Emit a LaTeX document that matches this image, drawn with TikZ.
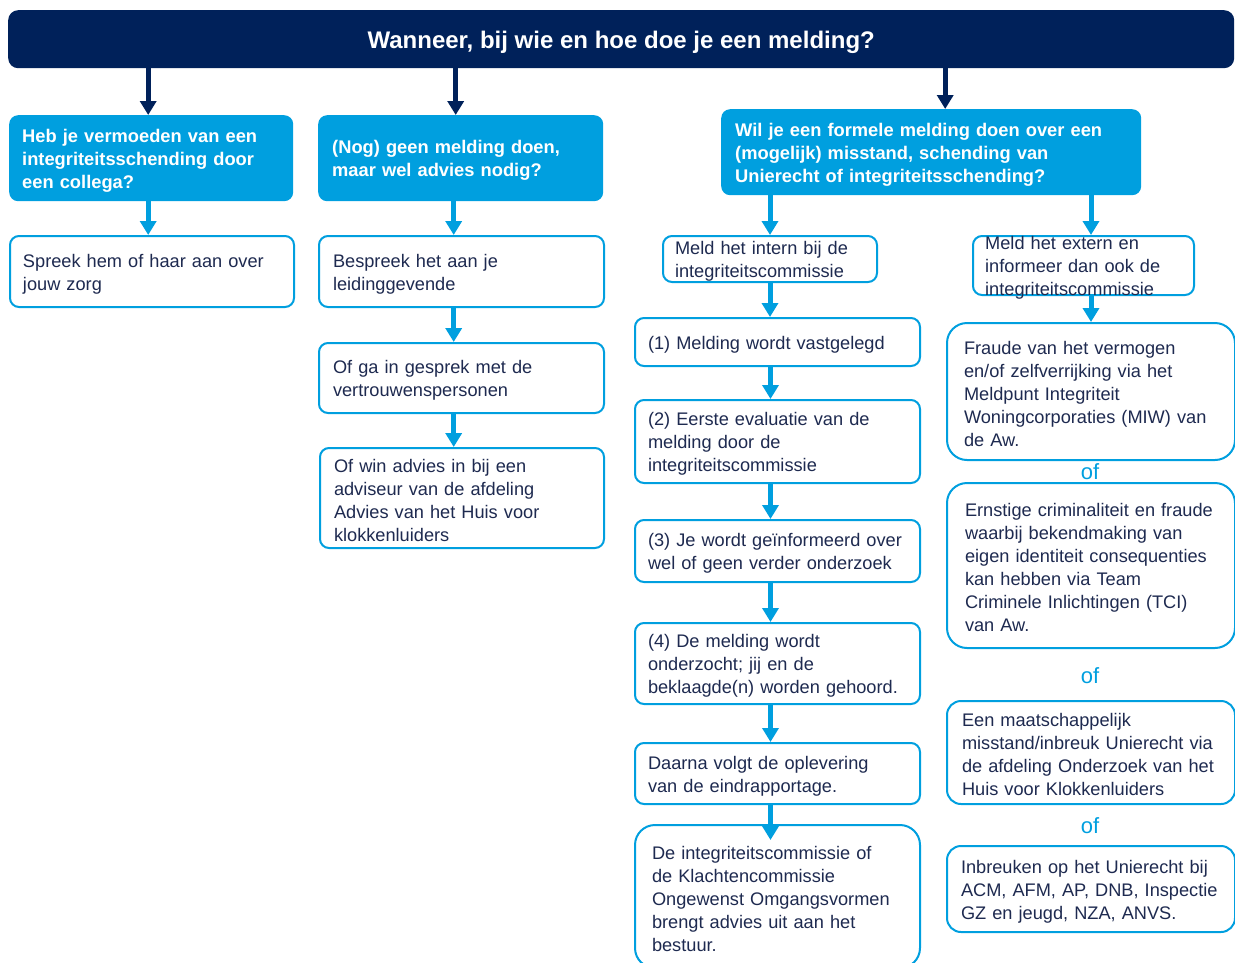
\documentclass[tikz,border=0pt]{standalone}
\usepackage{fontspec}
\setmainfont{Liberation Sans}
\usetikzlibrary{arrows.meta}
\definecolor{navy}{HTML}{00215A}
\definecolor{sky}{HTML}{009FDF}
\definecolor{ink}{HTML}{1E2A50}
\begin{document}
\begin{tikzpicture}[x=1pt,y=-1pt,
  base/.style={rounded corners=9pt, anchor=north west, inner xsep=13pt, inner ysep=0pt, align=left, font=\fontsize{18.2}{23}\selectfont, execute at begin node={\rule{0pt}{18pt}}},
  qbox/.style={base, fill=sky, text=white, font=\bfseries\fontsize{18.3}{23}\selectfont},
  wbox/.style={base, draw=sky, line width=2pt, fill=white, text=ink},
  darrow/.style={draw=navy, line width=5pt, -{Triangle[width=16pt,length=14pt]}},
  barrow/.style={draw=sky, line width=5pt, -{Triangle[width=16pt,length=14pt]}},
  oftxt/.style={text=sky, font=\fontsize{22}{24}\selectfont}]
\useasboundingbox (0,0) rectangle (1235,962);
\clip (0,0) rectangle (1235,962);

% header
\node[rounded corners=10pt, fill=navy, text=white, anchor=north west, minimum width=1226pt, minimum height=58pt,
      text height=24pt, text depth=5pt, inner ysep=0pt,
      font=\bfseries\fontsize{24}{26}\selectfont] (hdr) at (8,10) {Wanneer, bij wie en hoe doe je een melding?};

% question boxes
\node[qbox, minimum width=284pt, minimum height=86pt, text width=258pt] (a1) at (9,115)
  {Heb je vermoeden van een\\integriteitsschending door\\een collega?};
\node[qbox, inner xsep=14pt, minimum width=285pt, minimum height=86pt, text width=257pt] (b1) at (318,115)
  {(Nog) geen melding doen,\\maar wel advies nodig?};
\node[qbox, inner xsep=14pt, minimum width=420pt, minimum height=86pt, text width=392pt] (c1) at (721,109)
  {Wil je een formele melding doen over een\\(mogelijk) misstand, schending van\\Unierecht of integriteitsschending?};

% left column
\node[wbox, minimum width=284pt, minimum height=71pt, text width=258pt] (a2) at (9,235)
  {Spreek hem of haar aan over\\jouw zorg};

% second column
\node[wbox, inner xsep=14pt, minimum width=285pt, minimum height=71pt, text width=257pt] (b2) at (318,235)
  {Bespreek het aan je\\leidinggevende};
\node[wbox, inner xsep=14pt, minimum width=285pt, minimum height=70pt, text width=257pt] (b3) at (318,342)
  {Of ga in gesprek met de\\vertrouwenspersonen};
\node[wbox, inner xsep=14pt, minimum width=284pt, minimum height=100pt, text width=256pt] (b4) at (319,447)
  {Of win advies in bij een\\adviseur van de afdeling\\Advies van het Huis voor\\klokkenluiders};

% third column
\node[wbox, inner xsep=12pt, minimum width=214pt, minimum height=46pt, text width=190pt] (c2a) at (662,235)
  {Meld het intern bij de\\integriteitscommissie};
\node[wbox, minimum width=285pt, minimum height=48pt, text width=259pt] (c3) at (634,317)
  {(1) Melding wordt vastgelegd};
\node[wbox, minimum width=285pt, minimum height=83pt, text width=259pt] (c4) at (634,399)
  {(2) Eerste evaluatie van de\\melding door de\\integriteitscommissie};
\node[wbox, minimum width=285pt, minimum height=62pt, text width=259pt] (c5) at (634,519)
  {(3) Je wordt geïnformeerd over\\wel of geen verder onderzoek};
\node[wbox, minimum width=285pt, minimum height=81pt, text width=259pt] (c6) at (634,622)
  {(4) De melding wordt\\onderzocht; jij en de\\beklaagde(n) worden gehoord.};
\node[wbox, minimum width=285pt, minimum height=61pt, text width=259pt] (c7) at (634,742)
  {Daarna volgt de oplevering\\van de eindrapportage.};
\node[wbox, rounded corners=20pt, inner xsep=17pt, minimum width=285pt, minimum height=143pt, text width=251pt] (c8) at (634,824)
  {De integriteitscommissie of\\de Klachtencommissie\\Ongewenst Omgangsvormen\\brengt advies uit aan het\\bestuur.};

% fourth column
\node[wbox, minimum width=221pt, minimum height=59pt, execute at begin node={}] (c2b) at (972,235) {};
\node[base, inner xsep=0pt, anchor=west, text=ink, text width=205pt] (c2btxt) at ([xshift=13pt]c2b.west)
  {Meld het extern en\\informeer dan ook de\\integriteitscommissie};
\node[wbox, rounded corners=20pt, inner xsep=17pt, minimum width=288pt, minimum height=137pt, text width=254pt] (d1) at (946,322)
  {Fraude van het vermogen\\en/of zelfverrijking via het\\Meldpunt Integriteit\\Woningcorporaties (MIW) van\\de Aw.};
\node[oftxt] (of1) at (1090,472) {of};
\node[wbox, rounded corners=20pt, inner xsep=18pt, minimum width=288pt, minimum height=165pt, text width=252pt] (d2) at (946,482)
  {Ernstige criminaliteit en fraude\\waarbij bekendmaking van\\eigen identiteit consequenties\\kan hebben via Team\\Criminele Inlichtingen (TCI)\\van Aw.};
\node[oftxt] (of2) at (1090,676) {of};
\node[wbox, rounded corners=14pt, inner xsep=15pt, minimum width=288pt, minimum height=103pt, text width=258pt] (d3) at (946,700)
  {Een maatschappelijk\\misstand/inbreuk Unierecht via\\de afdeling Onderzoek van het\\Huis voor Klokkenluiders};
\node[oftxt] (of3) at (1090,826) {of};
\node[wbox, rounded corners=14pt, inner xsep=14pt, minimum width=288pt, minimum height=86pt, text width=260pt] (d4) at (946,845)
  {Inbreuken op het Unierecht bij\\ACM, AFM, AP, DNB, Inspectie\\GZ en jeugd, NZA, ANVS.};

% header arrows
\coordinate (ta) at ([xshift=-3pt]a1.north);
\coordinate (tb) at ([xshift=-5pt]b1.north);
\coordinate (tc) at ([xshift=14pt]c1.north);
\draw[darrow] (hdr.south -| ta) -- (ta);
\draw[darrow] (hdr.south -| tb) -- (tb);
\draw[darrow] (hdr.south -| tc) -- (tc);

% blue arrows
\coordinate (xa) at ([xshift=-3pt]a1.south);
\coordinate (xb) at ([xshift=-7pt]b1.south);
\coordinate (xc) at ([xshift=-7pt]c3.south);
\draw[barrow] (xa) -- (xa |- a2.north);
\draw[barrow] (xb) -- (xb |- b2.north);
\draw[barrow] (xb |- b2.south) -- (xb |- b3.north);
\draw[barrow] (xb |- b3.south) -- (xb |- b4.north);
\draw[barrow] (c1.south -| c2a.north) -- (c2a.north);
\draw[barrow] (c1.south -| d1.north) -- (c2b.north -| d1.north);
\draw[barrow] (c2a.south) -- (c3.north -| c2a.south);
\draw[barrow] (xc) -- (xc |- c4.north);
\draw[barrow] (xc |- c4.south) -- (xc |- c5.north);
\draw[barrow] (xc |- c5.south) -- (xc |- c6.north);
\draw[barrow] (xc |- c6.south) -- (xc |- c7.north);
\draw[barrow, shorten >=-16pt] (xc |- c7.south) -- (xc |- c8.north);
\draw[barrow] (c2b.south -| d1.north) -- (d1.north);
\end{tikzpicture}
\end{document}
